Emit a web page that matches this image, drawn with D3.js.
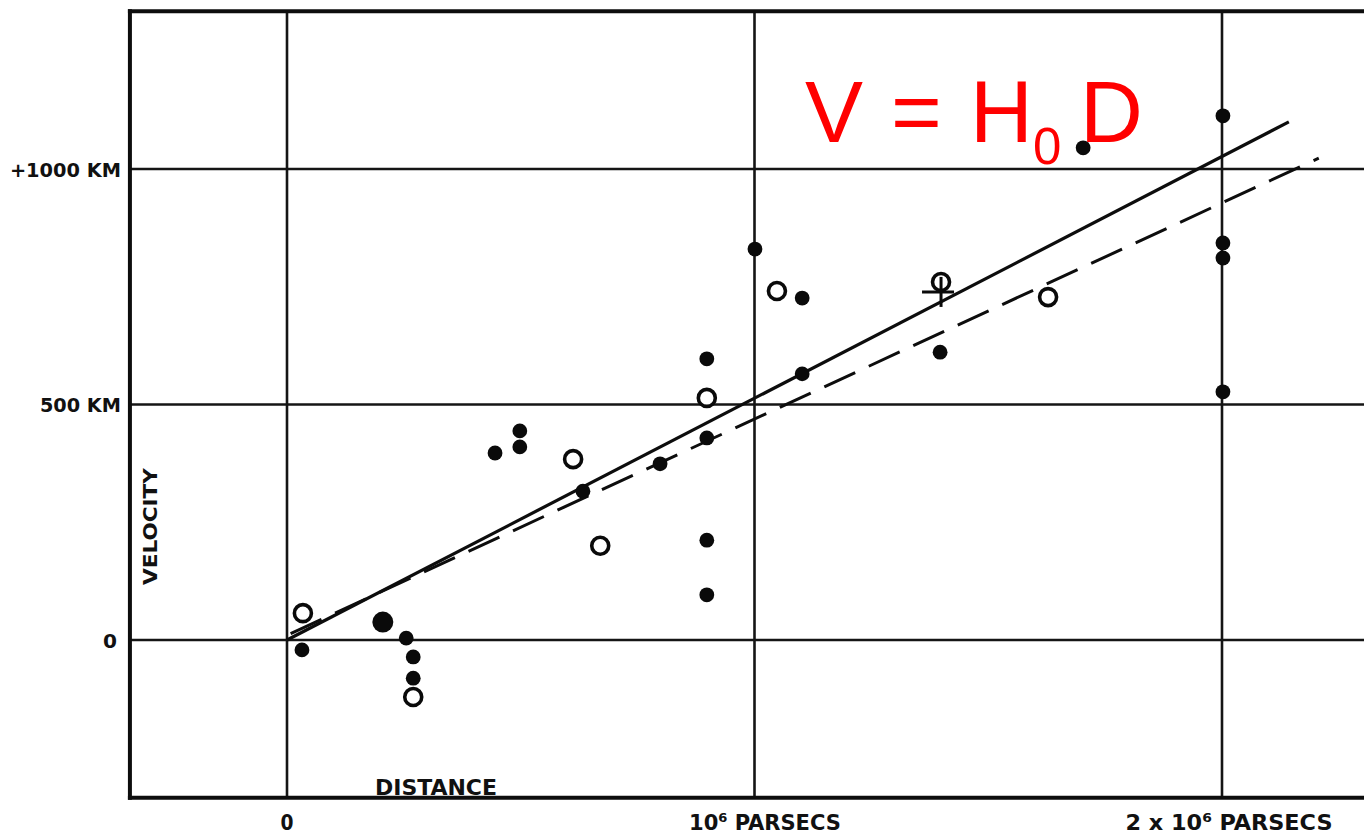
<!DOCTYPE html>
<html><head><meta charset="utf-8">
<script src="https://d3js.org/d3.v7.min.js"></script>
<style>
body{margin:0;background:#fff;}
svg{display:block;}
.lbl{font-family:"DejaVu Sans Condensed","DejaVu Sans",sans-serif;font-weight:bold;font-stretch:condensed;fill:#111;}
</style></head>
<body>
<svg id="c" width="1364" height="837"></svg>
<script>
// ---- data (distance in 10^6 parsecs, velocity in km/s) ----
const filledD = [0.032,0.255,0.27,0.27,0.445,0.498,0.498,0.633,0.798,0.898,0.898,0.898,0.898,1.001,1.102,1.102,1.397,1.703,2.002,2.002,2.002,2.002];
const filledV = [-21,4,-36,-81,397,444,410,316,374,597,429,212,96,830,726,565,611,1045,1113,843,811,527];
const largeD = [0.205];
const largeV = [38];
const openD = [0.034,0.27,0.612,0.67,0.898,1.048,1.399,1.628];
const openV = [57,-121,384,200,514,741,760,728];
const crossD = [1.399];
const crossV = [739];
const solidLineD = [0,2.143];
const solidLineV = [0,1100];
const dashedLineD = [0,2.207];
const dashedLineV = [10,1023];
const xTicks = [0,1,2];
const xTickLabels = [["0",""," "],["10","6"," PARSECS"],["2 x 10","6"," PARSECS"]];
const yTicks = [0,500,1000];
const yTickLabels = ["0","500 KM","+1000 KM"];
const xExtent = [-0.336,2.31];
const yExtent = [-335,1335];

const svg = d3.select("#c");
const x = d3.scaleLinear().domain([0,2]).range([287,1222]);
const y = d3.scaleLinear().domain([0,1000]).range([640,169]);

// grid
const g = svg.append("g");
g.selectAll(".vg").data(xTicks).join("line")
  .attr("x1",d=>x(d)).attr("x2",d=>x(d))
  .attr("y1",y(yExtent[1])).attr("y2",y(yExtent[0]))
  .attr("stroke","#151515").attr("stroke-width",2.6);
g.selectAll(".hg").data(yTicks).join("line")
  .attr("x1",x(xExtent[0])).attr("x2",x(xExtent[1])+20)
  .attr("y1",d=>y(d)).attr("y2",d=>y(d))
  .attr("stroke","#151515").attr("stroke-width",2.6);
// frame
g.append("line").attr("x1",x(xExtent[0])).attr("x2",x(xExtent[0]))
  .attr("y1",y(yExtent[1])-2).attr("y2",y(yExtent[0])+2)
  .attr("stroke","#0d0d0d").attr("stroke-width",4);
g.append("line").attr("x1",x(xExtent[0])-2).attr("x2",x(xExtent[1])+20)
  .attr("y1",y(yExtent[1])).attr("y2",y(yExtent[1]))
  .attr("stroke","#0d0d0d").attr("stroke-width",4);
g.append("line").attr("x1",x(xExtent[0])-2).attr("x2",x(xExtent[1])+20)
  .attr("y1",y(yExtent[0])).attr("y2",y(yExtent[0]))
  .attr("stroke","#0d0d0d").attr("stroke-width",4);

// lines
const lineGen = d3.line().x(d=>x(d[0])).y(d=>y(d[1]));
svg.append("path").datum(solidLineD.map((d,i)=>[d,solidLineV[i]]))
  .attr("d",lineGen).attr("fill","none").attr("stroke","#0d0d0d").attr("stroke-width",3.2);
svg.append("path").datum(dashedLineD.map((d,i)=>[d,dashedLineV[i]]))
  .attr("d",lineGen).attr("fill","none").attr("stroke","#0d0d0d").attr("stroke-width",3)
  .attr("stroke-dasharray","34,15").attr("stroke-dashoffset",-4);

// points
svg.append("g").selectAll("circle").data(filledD).join("circle")
  .attr("cx",d=>x(d)).attr("cy",(d,i)=>y(filledV[i])).attr("r",7.4).attr("fill","#0a0a0a");
svg.append("g").selectAll("circle").data(largeD).join("circle")
  .attr("cx",d=>x(d)).attr("cy",(d,i)=>y(largeV[i])).attr("r",10.5).attr("fill","#0a0a0a");
svg.append("g").selectAll("circle").data(openD).join("circle")
  .attr("cx",d=>x(d)).attr("cy",(d,i)=>y(openV[i])).attr("r",8.5)
  .attr("fill","#fff").attr("stroke","#0a0a0a").attr("stroke-width",3.6);
const cg = svg.append("g");
crossD.forEach((d,i)=>{
  const cx=x(d), cy=y(crossV[i]);
  cg.append("line").attr("x1",cx-19).attr("x2",cx+13).attr("y1",cy).attr("y2",cy)
    .attr("stroke","#0a0a0a").attr("stroke-width",3);
  cg.append("line").attr("x1",cx).attr("x2",cx).attr("y1",cy-15).attr("y2",cy+15)
    .attr("stroke","#0a0a0a").attr("stroke-width",3);
});

// y axis labels
const yAxis = d3.axisLeft(y).tickValues(yTicks).tickSize(0).tickPadding(9)
  .tickFormat((d,i)=>yTickLabels[i]);
const ya = svg.append("g").attr("transform",`translate(${x(xExtent[0])},0)`).call(yAxis);
ya.select(".domain").remove();
ya.selectAll("text").attr("class","lbl").attr("font-size",20).attr("fill","#111")
  .attr("dy","0.36em")
  .attr("textLength",(d,i)=>[14,81,111][i]).attr("lengthAdjust","spacingAndGlyphs")
  .attr("dx",(d,i)=>[-4,0,0][i]);

// x axis labels
const xAxis = d3.axisBottom(x).tickValues(xTicks).tickSize(0).tickPadding(0).tickFormat("");
const xa = svg.append("g").attr("transform",`translate(0,${y(yExtent[0])})`).call(xAxis);
xa.select(".domain").remove();
xa.selectAll(".tick text").each(function(d,i){
  const t = d3.select(this).attr("class","lbl").attr("font-size",21).attr("fill","#111")
    .attr("y",32).attr("dy",0).attr("text-anchor","start")
    .attr("x",[-7,-66,-97][i]);
  const parts = xTickLabels[i];
  t.append("tspan").text(parts[0]);
  if(parts[1]){
    t.append("tspan").text(parts[1]).attr("font-size",13).attr("dy",-8);
    t.append("tspan").text(parts[2]).attr("dy",8);
  }
});
xa.selectAll(".tick text").attr("textLength",(d,i)=>[13,152,207][i]).attr("lengthAdjust","spacingAndGlyphs");

// axis titles
svg.append("text").attr("class","lbl").attr("font-size",21)
  .attr("x",375).attr("y",795).attr("textLength",122).attr("lengthAdjust","spacingAndGlyphs")
  .text("DISTANCE");
svg.append("text").attr("class","lbl").attr("font-size",19)
  .attr("transform","translate(157,585) rotate(-90)")
  .attr("textLength",117).attr("lengthAdjust","spacingAndGlyphs")
  .text("VELOCITY");

// equation
const eq = svg.append("text").attr("font-family","'Liberation Sans',Arial,sans-serif")
  .attr("fill","#ff0000").attr("font-size",87);
eq.append("tspan").attr("x",805).attr("y",142).text("V");
eq.append("tspan").attr("x",891).attr("y",142).text("=");
eq.append("tspan").attr("x",970).attr("y",142).text("H");
eq.append("tspan").attr("x",1033).attr("y",164).attr("font-size",51).text("0");
eq.append("tspan").attr("x",1080).attr("y",142).text("D");
</script>
</body></html>
